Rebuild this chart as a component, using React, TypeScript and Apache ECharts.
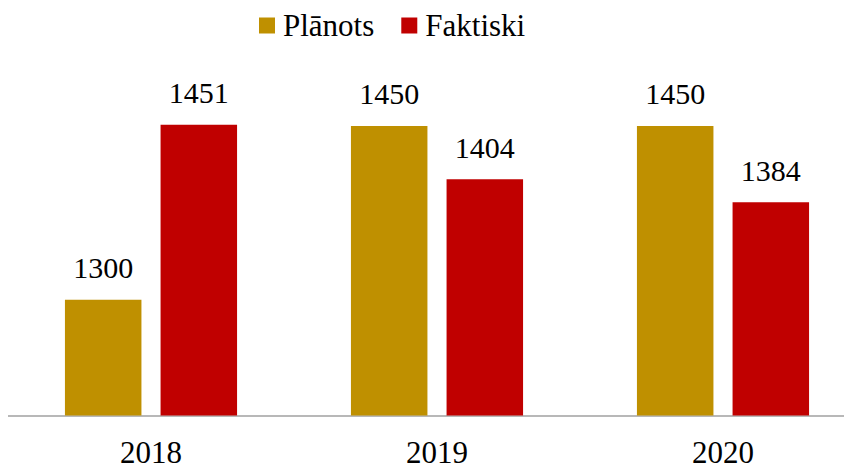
import React, { useEffect, useRef } from "react";
import * as echarts from "echarts";

const categories = ["2018", "2019", "2020"];
const planned = [1300, 1450, 1450];
const actual = [1451, 1404, 1384];
const seriesNames = ["Plānots", "Faktiski"];

const FONT = "'Liberation Serif', 'Times New Roman', serif";

export default function App() {
  const ref = useRef<HTMLDivElement>(null);
  useEffect(() => {
    if (!ref.current) return;
    const chart = echarts.init(ref.current, undefined, { renderer: "svg" });
    const label = {
      show: true,
      position: "top",
      distance: 17,
      color: "#000",
      fontFamily: FONT,
      fontSize: 30,
    };
    chart.setOption({
      animation: false,
      textStyle: { fontFamily: FONT },
      legend: {
        left: 251,
        top: 2,
        padding: 0,
        icon: "rect",
        itemWidth: 16,
        itemHeight: 16,
        itemGap: 27,
        textStyle: {
          fontFamily: FONT,
          fontSize: 31,
          lineHeight: 20,
          color: "#000",
          padding: [0, 0, 0, 3],
        },
        data: seriesNames,
      },
      grid: {
        left: 0,
        right: 0,
        top: 60,
        bottom: 48.5,
        containLabel: false,
        outerBoundsMode: "none",
      },
      xAxis: {
        type: "category",
        data: categories,
        axisTick: { show: false },
        axisLine: { lineStyle: { color: "#a0a0a0", width: 1.5 } },
        axisLabel: { color: "#000", fontFamily: FONT, fontSize: 31, margin: 21 },
      },
      yAxis: {
        type: "value",
        min: 1200,
        max: 1500,
        show: false,
        splitLine: { show: false },
      },
      series: [
        {
          name: seriesNames[0],
          type: "bar",
          data: planned,
          barWidth: 76.5,
          barGap: "25%",
          itemStyle: { color: "#BF9000" },
          label,
        },
        {
          name: seriesNames[1],
          type: "bar",
          data: actual,
          barWidth: 76.5,
          barGap: "25%",
          itemStyle: { color: "#C00000" },
          label,
        },
      ],
    });
    return () => chart.dispose();
  }, []);
  return (
    <div style={{ width: 844, height: 456, overflow: "hidden" }}>
      <div ref={ref} style={{ width: 858, height: 456 }} />
    </div>
  );
}
